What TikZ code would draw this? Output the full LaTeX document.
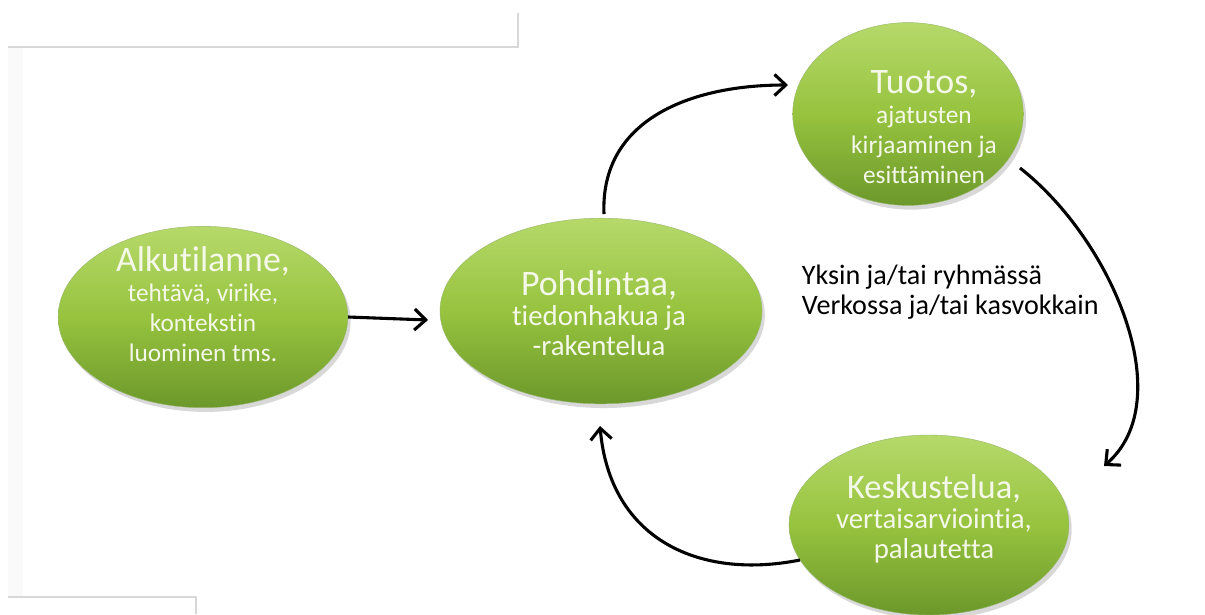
\documentclass[tikz,border=0pt]{standalone}
\usepackage{fontspec}
\setmainfont{Carlito}[Ligatures={NoCommon,NoContextual}]
\usetikzlibrary{shapes.geometric,shadows,arrows.meta}
\definecolor{gtop}{HTML}{B6D96A}
\definecolor{gmid}{HTML}{97C33F}
\definecolor{gbot}{HTML}{6C982B}
\definecolor{txtw}{HTML}{F4F8E8}
\definecolor{frame}{HTML}{D8D8D8}
\tikzset{
  px/.style={x=0.025cm,y=-0.025cm},
  blob/.style={ellipse, inner sep=0pt, top color=gtop, bottom color=gbot, middle color=gmid,
    draw=gbot!70, line width=0.3pt, drop shadow={opacity=0.3,shadow xshift=2pt,shadow yshift=-3pt}},
  blobtext/.style={text=txtw, align=center, inner sep=0pt, font=\fontsize{18}{21.5}\selectfont},
  blobtextb/.style={blobtext, font=\fontsize{20.5}{21.5}\selectfont},
  conn/.style={line width=2.2pt, -{Straight Barb[length=8pt,width=15pt,line width=2.2pt]}},
  note/.style={font=\fontsize{20}{21.5}\selectfont, align=left, anchor=west}
}
\newcommand{\ttlfont}{\fontsize{25.5}{28}\selectfont}
\begin{document}
\begin{tikzpicture}[px]
\useasboundingbox (0,0) rectangle (1205,614);
\fill[white] (0,0) rectangle (1205,614);
% faint frames
\draw[frame, line width=0.8pt] (8,47) -- (518,47) -- (518,13);
\fill[black!2] (8,48) rectangle (23,597);
\draw[frame, line width=0.8pt] (8,597) -- (196,597) -- (196,614);
% ellipses
\node[blob, minimum width=206pt, minimum height=129pt] (alku) at (203,317) {};
\node[blob, minimum width=229pt, minimum height=132pt] (pohd) at (601,311) {};
\node[blob, minimum width=164pt, minimum height=130pt] (tuot) at (908,114) {};
\node[blob, minimum width=199pt, minimum height=128pt] (kesk) at (929,525) {};
% texts
\node[blobtext] (alkut) at (203,304)
  {{\ttlfont Alkutilanne,}\\tehtävä, virike,\\kontekstin\\luominen tms.};
\node[blobtextb] (pohdt) at (599,313)
  {{\ttlfont Pohdintaa,}\\tiedonhakua ja\\-rakentelua};
\node[blobtext] (tuott) at (924,127)
  {{\ttlfont Tuotos,}\\ajatusten\\kirjaaminen ja\\esittäminen};
\node[blobtextb] (keskt) at (934,519)
  {{\fontsize{24.5}{28}\selectfont Keskustelua,}\\vertaisarviointia,\\palautetta};
% note
\node[note] (yksin) at (797,292) {Yksin ja/tai ryhmässä\\Verkossa ja/tai kasvokkain};
% connectors
\coordinate (a1) at (428,320);
\draw[conn] (alku.east) -- (a1);
\coordinate (b0) at (604,214);
\coordinate (b1) at (788,85);
\draw[conn] (b0) .. controls (600,120) and (690,85) .. (b1);
\coordinate (c0) at (1020,168);
\coordinate (c1) at (1104,466);
\draw[conn] (c0) .. controls (1112,240) and (1180,400) .. (c1);
\coordinate (d0) at (800,560);
\coordinate (d1) at (600,426);
\draw[conn] (d0) .. controls (700,580) and (610,540) .. (d1);
\end{tikzpicture}
\end{document}
